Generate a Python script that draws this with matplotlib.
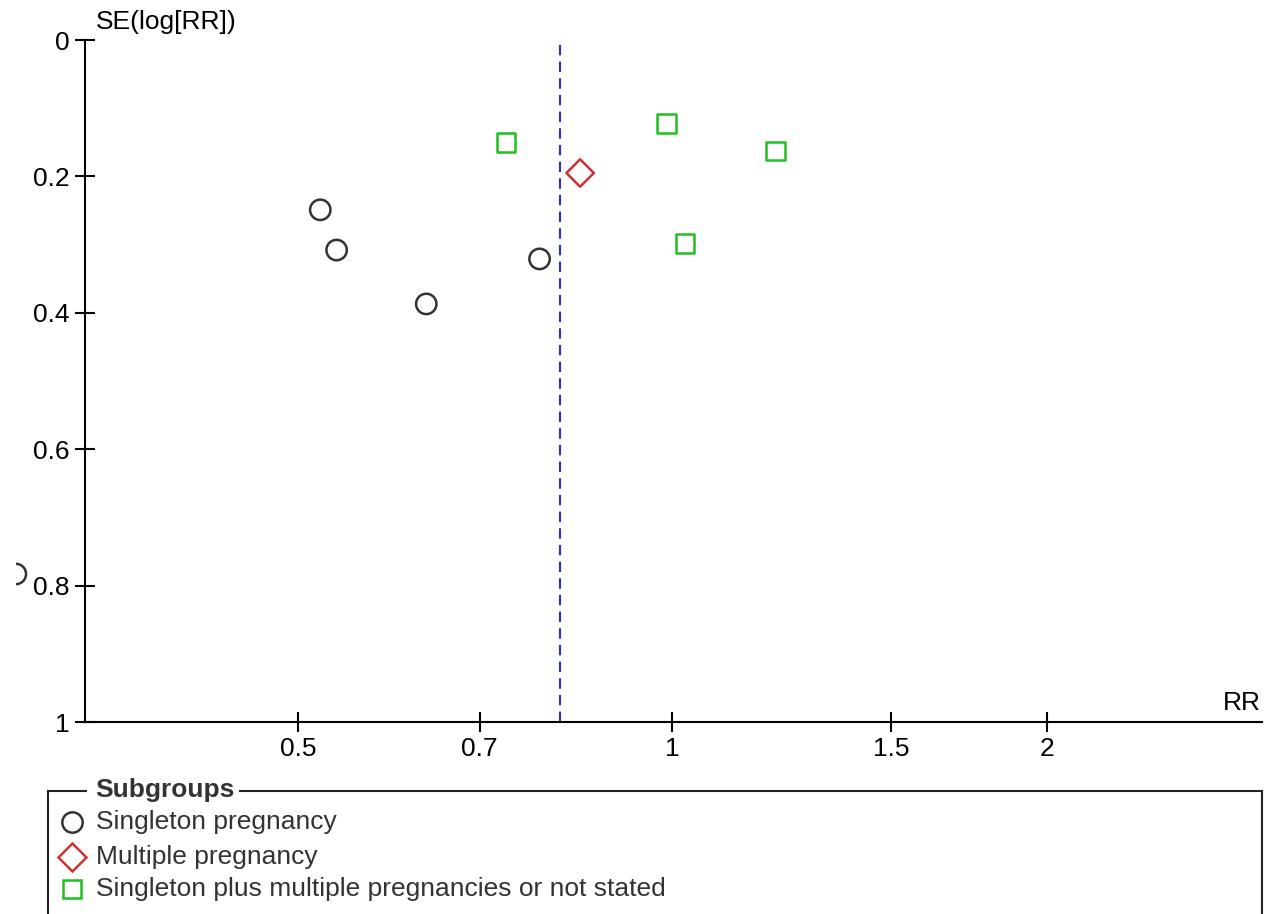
import numpy as np
import matplotlib.pyplot as plt
from matplotlib.lines import Line2D
from matplotlib.transforms import Bbox

plt.rcParams['font.family'] = ['Liberation Sans', 'DejaVu Sans']

# study estimates
single_rr = [0.521, 0.537, 0.634, 0.782, 0.2965]
single_se = [0.249, 0.308, 0.387, 0.321, 0.783]
multiple_rr = [0.843]
multiple_se = [0.195]
mixed_rr = [0.735, 0.989, 1.21, 1.024]
mixed_se = [0.150, 0.122, 0.163, 0.298]
pooled_rr = 0.8125

x_ticks = [0.5, 0.7, 1, 1.5, 2]
x_ticklabels = ["0.5", "0.7", "1", "1.5", "2"]
y_ticks = [0, 0.2, 0.4, 0.6, 0.8, 1]
y_ticklabels = ["0", "0.2", "0.4", "0.6", "0.8", "1"]

W, H = 1264, 914
fig = plt.figure(figsize=(W / 100, H / 100), dpi=100)
ax = fig.add_axes([85 / W, 1 - 722 / H, (1262 - 85) / W, (722 - 40) / H])

txt = "#333333"
fs = 19

ax.set_xscale("log")
ax.set_xlim(0.337, 2.98)
ax.set_ylim(1, 0)
ax.set_xticks(x_ticks)
ax.set_xticklabels(x_ticklabels)
ax.minorticks_off()
ax.set_yticks(y_ticks)
ax.set_yticklabels(y_ticklabels)
ax.tick_params(direction="inout", length=14, width=1.5, labelsize=fs, colors="black",
               labelcolor="black", pad=4)
ax.spines["top"].set_visible(False)
ax.spines["right"].set_visible(False)
for s in ["left", "bottom"]:
    ax.spines[s].set_linewidth(1.5)

ax.axvline(pooled_rr, color="#2b2bd0", linestyle=(0, (5, 3)), linewidth=1.5)

circle_s, diamond_s, square_s = 215, 195, 180

ax.scatter(single_rr, single_se, marker="o", s=circle_s, facecolors="none",
           edgecolors="#333333", linewidths=1.8, clip_on=False, zorder=3)
sc = ax.collections[-1]
sc.set_clip_on(True)
sc.set_clip_box(Bbox.from_extents(16, 0, W, H))
ax.scatter(multiple_rr, multiple_se, marker="D", s=diamond_s, facecolors="none",
           edgecolors="#d03030", linewidths=1.8, zorder=3)
ax.scatter(mixed_rr, mixed_se, marker="s", s=square_s, facecolors="none",
           edgecolors="#20c020", linewidths=1.8, zorder=3)

fig.text(96 / W, 1 - 22 / H, "SE(log[RR])", fontsize=fs, color="black", va="center")
fig.text(1242 / W, 1 - 703 / H, "RR", fontsize=fs, color="black", va="center", ha="center")

# legend box
def fx(p):
    return p / W

def fy(p):
    return 1 - p / H

lc = "#222222"
fig.add_artist(Line2D([fx(48), fx(86)], [fy(791), fy(791)], color=lc, lw=1.5))
fig.add_artist(Line2D([fx(240), fx(1262)], [fy(791), fy(791)], color=lc, lw=1.5))
fig.add_artist(Line2D([fx(48), fx(48)], [fy(791), fy(914)], color=lc, lw=1.5))
fig.add_artist(Line2D([fx(1262), fx(1262)], [fy(791), fy(914)], color=lc, lw=1.5))
fig.text(fx(95), fy(790), "Subgroups", fontsize=fs, fontweight="bold", color=txt, va="center")

entries = [
    ("o", "#333333", "Singleton pregnancy", 822, circle_s),
    ("D", "#d03030", "Multiple pregnancy", 857, diamond_s),
    ("s", "#20c020", "Singleton plus multiple pregnancies or not stated", 889, square_s),
]
for m, c, label, yp, sz in entries:
    fig.add_artist(Line2D([fx(72)], [fy(yp)], marker=m, markersize=np.sqrt(sz),
                          markerfacecolor="none", markeredgecolor=c, markeredgewidth=1.8,
                          linestyle="none"))
    fig.text(fx(96), fy(yp), label, fontsize=fs, color=txt, va="center")

fig.savefig("out.png", dpi=100)
